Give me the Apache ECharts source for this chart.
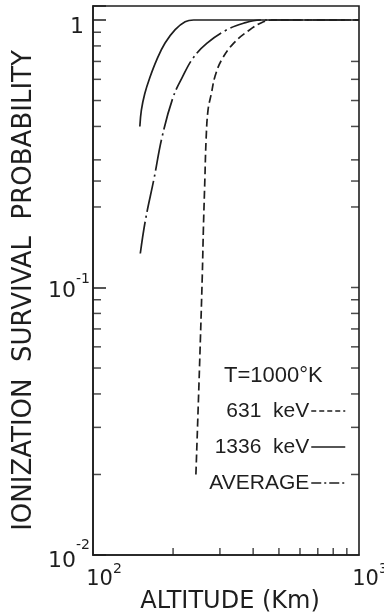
<!DOCTYPE html>
<html>
<head>
<meta charset="utf-8">
<script src="https://cdn.jsdelivr.net/npm/echarts@6/dist/echarts.min.js"></script>
<style>
  html, body { margin: 0; padding: 0; background: #fff; }
  #chart { width: 384px; height: 616px; }
</style>
</head>
<body>
<div id="chart"></div>
<script>
// 1336 keV (solid)
const alt1336 = [150, 152, 156.5, 163.6, 173.6, 186.6, 203.7, 222, 239, 300, 1000];
const prob1336 = [0.40, 0.46, 0.53, 0.61, 0.71, 0.82, 0.92, 0.985, 1.0, 1.0, 1.0];

// 631 keV (dashed)
const alt631 = [243.7, 251.2, 257.5, 260, 263.3, 266.3, 270.7, 278.7, 287.3, 304.4, 337.5, 384.2, 437.5, 477, 600, 1000];
const prob631 = [0.020, 0.049, 0.110, 0.165, 0.252, 0.361, 0.461, 0.532, 0.614, 0.709, 0.818, 0.912, 0.985, 1.0, 1.0, 1.0];

// average (dash-dot)
const altAvg = [150.6, 157.5, 169.7, 181.9, 200, 217.2, 238.3, 267.7, 313.9, 368, 425, 550, 1000];
const probAvg = [0.134, 0.179, 0.256, 0.366, 0.514, 0.614, 0.723, 0.818, 0.912, 0.972, 1.0, 1.0, 1.0];

// tick marks drawn inside the frame
const leftMinorTicks = [0.9, 0.8, 0.7, 0.6, 0.5, 0.4, 0.3, 0.25, 0.2,
  0.09, 0.08, 0.07, 0.06, 0.05, 0.04, 0.03, 0.02];
const rightTicks = [0.7, 0.6, 0.5, 0.4, 0.3, 0.25, 0.2, 0.1,
  0.09, 0.08, 0.07, 0.06, 0.05, 0.04, 0.03, 0.02];
const bottomTicks = [200, 300, 400, 500, 600, 700, 800, 900];

const xMin = 100, xMax = 1000;
const yMin = 0.01, yMax = 1.128;

const ink = '#1e1e1e';
const font = 'DejaVu Sans';
const legendFont = 'Liberation Sans';

const pairs = (xs, ys) => xs.map((x, i) => [x, ys[i]]);

const isPow10 = v => Math.abs(Math.log10(v) - Math.round(Math.log10(v))) < 1e-6;

const chart = echarts.init(document.getElementById('chart'));
chart.setOption({
  animation: false,
  backgroundColor: '#fff',
  grid: {
    left: 93, right: 25, top: 6, bottom: 61,
    outerBoundsMode: 'none',
    show: true, borderColor: ink, borderWidth: 1.6
  },
  title: {
    text: 'T=1000°K',
    left: 219, top: 360,
    textStyle: { fontSize: 22, fontWeight: 'normal', fontFamily: legendFont, color: ink }
  },
  legend: {
    orient: 'vertical',
    align: 'right',
    right: 33, top: 394,
    itemWidth: 34, itemHeight: 14, itemGap: 12,
    selectedMode: false,
    textStyle: { fontSize: 21, fontFamily: legendFont, color: ink, lineHeight: 24, padding: [0, -3, 0, 0] },
    itemStyle: { opacity: 0 },
    lineStyle: { width: 1.5 },
    data: [
      { name: '631  keV', lineStyle: { type: [5, 3] } },
      { name: '1336  keV' },
      { name: 'AVERAGE', lineStyle: { type: [10, 3, 2, 3] } }
    ]
  },
  xAxis: {
    type: 'log',
    min: xMin, max: xMax,
    name: 'ALTITUDE (Km)',
    nameLocation: 'middle',
    nameGap: 35,
    nameMoveOverlap: false,
    nameTextStyle: { fontSize: 24, fontFamily: font, color: ink, padding: [0, 0, 0, 8] },
    axisLine: { lineStyle: { color: ink, width: 1.6 } },
    axisTick: { show: false },
    splitLine: { show: false },
    axisLabel: {
      margin: 7,
      formatter: v => isPow10(v) ? '{n|10}{s|' + Math.round(Math.log10(v)) + '}' : '',
      rich: {
        n: { fontSize: 21, fontFamily: font, color: ink, padding: [0, 0, 0, 22], lineHeight: 28, verticalAlign: 'bottom' },
        s: { fontSize: 14, fontFamily: font, color: ink, lineHeight: 14, verticalAlign: 'top' }
      }
    }
  },
  yAxis: {
    type: 'log',
    min: yMin, max: yMax,
    name: 'IONIZATION  SURVIVAL  PROBABILITY',
    nameLocation: 'middle',
    nameRotate: 90,
    nameGap: 55,
    nameTextStyle: { fontSize: 26, fontFamily: font, color: ink, padding: [0, 20, 0, 0] },
    axisLine: { lineStyle: { color: ink, width: 1.6 } },
    axisTick: { inside: true, length: 13, lineStyle: { color: ink, width: 1.5 } },
    splitLine: { show: false },
    axisLabel: {
      margin: 3,
      formatter: v => {
        if (!isPow10(v)) return '';
        const e = Math.round(Math.log10(v));
        if (e === 0) return '{one|1}';
        return e === -2 ? '{n2|10}{s|' + e + '}' : '{n|10}{s|' + e + '}';
      },
      rich: {
        one: { fontSize: 22, fontFamily: font, color: ink, padding: [14, 6, 0, 0] },
        n: { fontSize: 22, fontFamily: font, color: ink, lineHeight: 30, verticalAlign: 'bottom' },
        n2: { fontSize: 22, fontFamily: font, color: ink, lineHeight: 34, verticalAlign: 'bottom' },
        s: { fontSize: 14, fontFamily: font, color: ink, lineHeight: 14, verticalAlign: 'top' }
      }
    }
  },
  series: [
    {
      name: '631  keV', type: 'line', symbol: 'none', smooth: 0.4,
      lineStyle: { color: ink, width: 1.7, type: [8, 4] },
      data: pairs(alt631, prob631)
    },
    {
      name: '1336  keV', type: 'line', symbol: 'none', smooth: 0.4,
      lineStyle: { color: ink, width: 1.7, type: 'solid' },
      data: pairs(alt1336, prob1336)
    },
    {
      name: 'AVERAGE', type: 'line', symbol: 'none', smooth: 0.4,
      lineStyle: { color: ink, width: 1.7, type: [32, 4, 2, 4] },
      data: pairs(altAvg, probAvg)
    },
    {
      type: 'scatter', silent: true, clip: false,
      symbol: 'rect', symbolSize: [8, 1.5], symbolOffset: [4, 0],
      itemStyle: { color: ink },
      data: leftMinorTicks.map(v => [xMin, v])
    },
    {
      type: 'scatter', silent: true, clip: false,
      symbol: 'rect', symbolSize: [8, 1.5], symbolOffset: [-4, 0],
      itemStyle: { color: ink },
      data: rightTicks.map(v => [xMax, v])
    },
    {
      type: 'scatter', silent: true, clip: false,
      symbol: 'rect', symbolSize: [1.5, 7], symbolOffset: [0, -3.5],
      itemStyle: { color: ink },
      data: bottomTicks.map(v => [v, yMin])
    }
  ]
});
</script>
</body>
</html>
